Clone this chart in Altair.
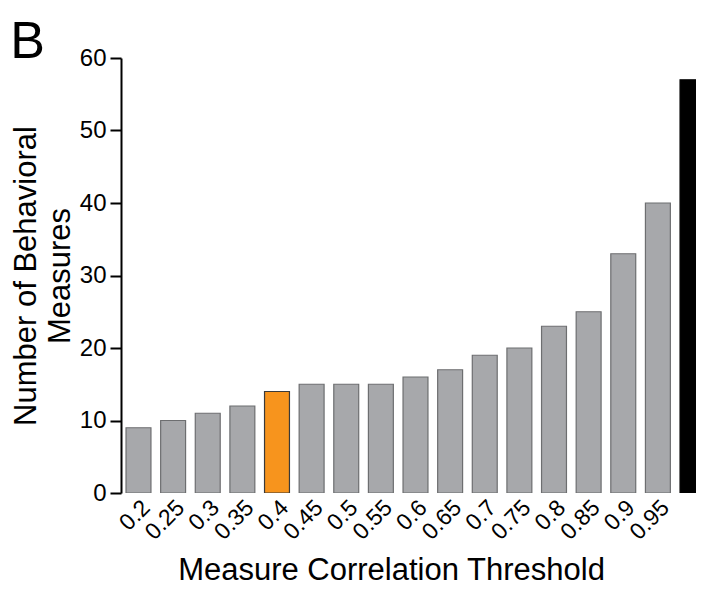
import altair as alt
import pandas as pd

thresholds = ["0.2", "0.25", "0.3", "0.35", "0.4", "0.45", "0.5", "0.55", "0.6",
              "0.65", "0.7", "0.75", "0.8", "0.85", "0.9", "0.95", "1"]
counts = [9, 10, 11, 12, 14, 15, 15, 15, 16, 17, 19, 20, 23, 25, 33, 40, 57]
fills = ["#a7a8ab"] * 4 + ["#f7941d"] + ["#a7a8ab"] * 11 + ["#000000"]
strokes = ["#6d6e70"] * 4 + ["#3a3a3a"] + ["#6d6e70"] * 11 + ["#000000"]

df = pd.DataFrame({"threshold": thresholds, "count": counts, "fill": fills, "stroke": strokes})

FONT = "Liberation Sans"

chart = alt.Chart(df).mark_bar(strokeWidth=1.2, clip=True).encode(
    x=alt.X("threshold:N", sort=thresholds,
            scale=alt.Scale(paddingInner=0.28, paddingOuter=0.145, range=[0, 589]),
            axis=alt.Axis(title="Measure Correlation Threshold", labelAngle=-45,
                          labelAlign="right", labelBaseline="top",
                          labelExpr="datum.value == '1' ? '' : datum.label",
                          domain=False, ticks=False, labelPadding=3,
                          labelFontSize=23, titleFontSize=31, titleFontWeight="normal",
                          labelFont=FONT, titleFont=FONT, labelColor="#000", titleColor="#000",
                          titleX=270, titleAlign="center", titlePadding=12)),
    y=alt.Y("count:Q", scale=alt.Scale(domain=[0, 60], nice=False),
            axis=alt.Axis(title=["Number of Behavioral", "Measures"], values=[0, 10, 20, 30, 40, 50, 60],
                          grid=False, domainColor="#000", domainWidth=2, tickColor="#000",
                          tickWidth=2, tickSize=11, labelPadding=4,
                          labelFontSize=24, titleFontSize=31, titleFontWeight="normal",
                          labelFont=FONT, titleFont=FONT, labelColor="#000", titleColor="#000",
                          titlePadding=3, titleLineHeight=34)),
    fill=alt.Fill("fill:N", scale=None),
    stroke=alt.Stroke("stroke:N", scale=None),
).properties(
    width=575, height=435,
    title=alt.TitleParams("B", anchor="start", frame="bounds", fontSize=52,
                          fontWeight="normal", font=FONT, color="#000", offset=-23),
    autosize=alt.AutoSizeParams(type="none"),
    padding={"left": 113, "top": 50, "right": 0, "bottom": 96},
).configure_view(stroke=None)

chart.save("out.html", embed_options={"renderer": "svg", "actions": False})
